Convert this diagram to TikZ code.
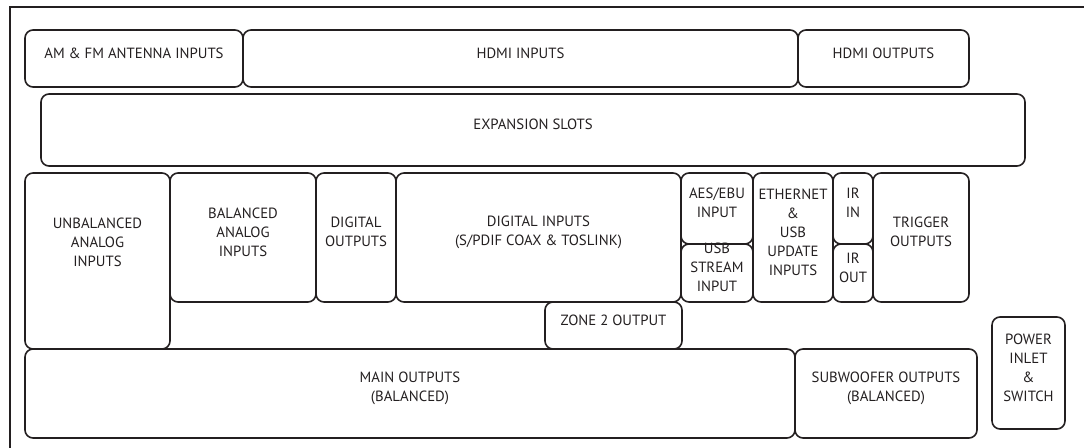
\documentclass[tikz,border=0pt]{standalone}
\usepackage{fontspec}
\setmainfont{PT Sans}
\usetikzlibrary{fit}
\definecolor{panelgray}{RGB}{35,31,32}

\begin{document}
\begin{tikzpicture}[x=0.75pt, y=-0.75pt, font=\fontsize{11.1}{14.2}\selectfont,
  port/.style={draw=panelgray, line width=1.2pt, rounded corners=6pt,
    inner sep=0pt, align=center, text=panelgray}]
  \useasboundingbox (0,0) rectangle (1084,448);
  % rear panel edge
  \draw[panelgray, line width=2.2pt] (10,448) -- (10,7) -- (1084,7);
  % connector groups
  \foreach \n/\xa/\ya/\xb/\yb/\t in {
     am/25/30/243/87/{AM \& FM ANTENNA INPUTS},
     hdmiin/243/30/798/87/{HDMI INPUTS},
     hdmiout/798/30/969/87/{HDMI OUTPUTS},
     slots/41/94/1025/166/{EXPANSION SLOTS},
     bal/170/173/316/302/{BALANCED\\ANALOG\\INPUTS},
     digout/316/173/396/302/{DIGITAL\\OUTPUTS},
     digin/396/173/681/302/{DIGITAL INPUTS\\(S/PDIF COAX \& TOSLINK)},
     aes/681/173/753/244/{AES/EBU\\INPUT},
     usb/681/244/753/302/{USB\\STREAM\\INPUT},
     eth/753/173/833/302/{ETHERNET\\\&\\USB\\UPDATE\\INPUTS},
     irin/833/173/873/244/{IR\\IN},
     irout/833/244/873/302/{IR\\OUT},
     trig/873/173/969/302/{TRIGGER\\OUTPUTS},
     zone/545/302/682/349/{ZONE 2 OUTPUT},
     main/25/349/795/438/{MAIN OUTPUTS\\(BALANCED)},
     sub/795/349/977/438/{SUBWOOFER OUTPUTS\\(BALANCED)},
     power/992/317/1065/429/{POWER\\INLET\\\&\\SWITCH}}{
     \node[port, fit={(\xa,\ya) (\xb,\yb)}] (\n) {\t};
  }
  % tall box, text sits high
  \node[port, fit={(25,173) (170,349)},
     label={[yshift=14pt, align=center, text=panelgray]center:{UNBALANCED\\ANALOG\\INPUTS}}] (unbal) {};
\end{tikzpicture}
\end{document}
